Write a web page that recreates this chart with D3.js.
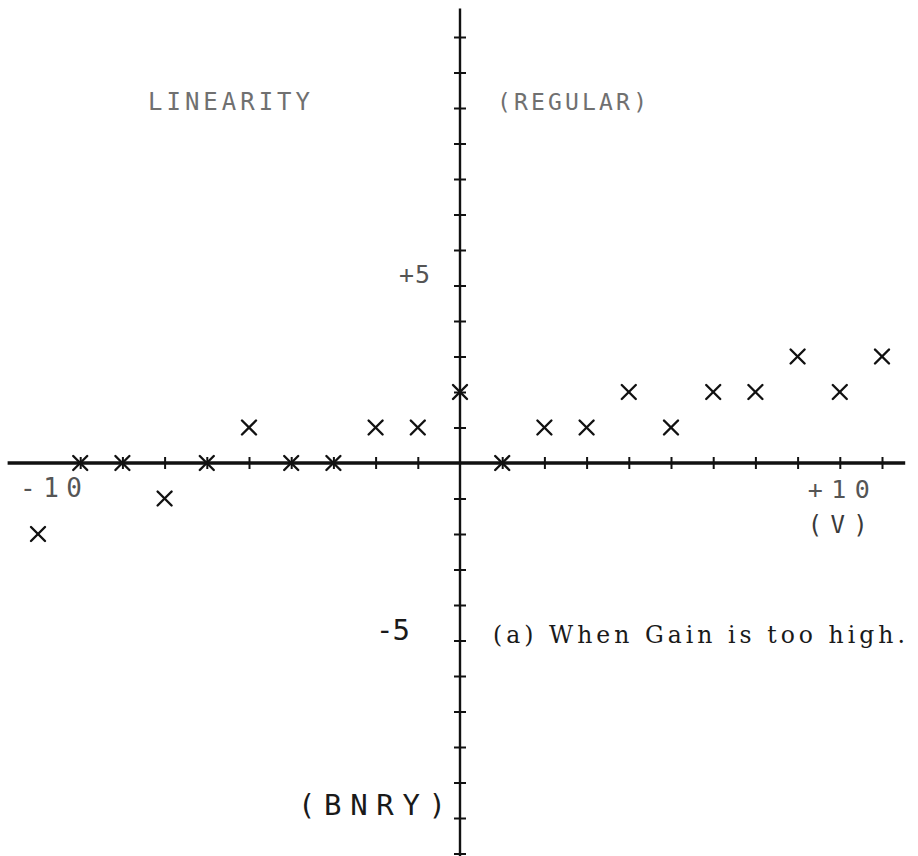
<!DOCTYPE html>
<html>
<head>
<meta charset="utf-8">
<script src="https://cdn.jsdelivr.net/npm/d3@7"></script>
<style>
  html, body { margin: 0; padding: 0; background: #fff; }
  svg { display: block; }
  .plot-font { font-family: "DejaVu Sans Mono", monospace; }
</style>
</head>
<body>
<svg id="chart" width="918" height="856"></svg>
<script>
// Input code steps along the horizontal axis
const codes = [-10, -9, -8, -7, -6, -5, -4, -3, -2, -1, 0, 1, 2, 3, 4, 5, 6, 7, 8, 9, 10];
// Measured output deviation for each code (LSB)
const outputs = [-2, 0, 0, -1, 0, 1, 0, 0, 1, 1, 2, 0, 1, 1, 2, 1, 2, 2, 3, 2, 3];

// Tick positions on each axis
const xTicks = [-9, -8, -7, -6, -5, -4, -3, -2, -1, 1, 2, 3, 4, 5, 6, 7, 8, 9, 10];
const yTicks = [-11, -10, -9, -8, -7, -6, -5, -4, -3, -2, -1, 1, 2, 3, 4, 5, 6, 7, 8, 9, 10, 11, 12];

const svg = d3.select("#chart");

const x = d3.scaleLinear().domain([-10, 10]).range([38, 882]);
const y = d3.scaleLinear().domain([-11, 12]).range([853.5, 37]);

const x0 = x(0), y0 = y(0);

// Axis lines
svg.append("line")
  .attr("x1", x(-10.72)).attr("x2", x(10.55))
  .attr("y1", y0).attr("y2", y0)
  .attr("stroke", "#111").attr("stroke-width", 3.4);
svg.append("line")
  .attr("x1", x0).attr("x2", x0)
  .attr("y1", y(12.8)).attr("y2", y(-11.1))
  .attr("stroke", "#111").attr("stroke-width", 2.4);

// Tick marks crossing the axes
const xAxis = d3.axisBottom(x).tickValues(xTicks).tickSize(12).tickFormat("");
svg.append("g")
  .attr("transform", `translate(0,${y0 - 6})`)
  .call(xAxis)
  .call(g => g.select(".domain").remove())
  .call(g => g.selectAll(".tick line").attr("stroke", "#111").attr("stroke-width", 2));

const yAxis = d3.axisLeft(y).tickValues(yTicks).tickSize(12).tickFormat("");
svg.append("g")
  .attr("transform", `translate(${x0 + 6},0)`)
  .call(yAxis)
  .call(g => g.select(".domain").remove())
  .call(g => g.selectAll(".tick line").attr("stroke", "#111").attr("stroke-width", 2));

// Data points drawn as crosses
const r = 7;
const pts = svg.append("g").selectAll("g")
  .data(codes.map((c, i) => ({ c, v: outputs[i] })))
  .join("g")
  .attr("transform", d => `translate(${x(d.c)},${y(d.v)})`);
pts.append("line").attr("x1", -r).attr("y1", -r).attr("x2", r).attr("y2", r);
pts.append("line").attr("x1", -r).attr("y1", r).attr("x2", r).attr("y2", -r);
pts.selectAll("line").attr("stroke", "#111").attr("stroke-width", 2.4).attr("stroke-linecap", "round");

// Plot title
svg.append("text").attr("class", "plot-font")
  .attr("x", 148).attr("y", 110)
  .attr("font-size", 24).attr("fill", "#707070")
  .attr("textLength", 162).attr("lengthAdjust", "spacing")
  .text("LINEARITY");
svg.append("text").attr("class", "plot-font")
  .attr("x", 497).attr("y", 110)
  .attr("font-size", 23).attr("fill", "#707070")
  .attr("textLength", 150).attr("lengthAdjust", "spacing")
  .text("(REGULAR)");

// Axis labels
const lab = (t, xp, yp, len, size, anchor, ink) => svg.append("text")
  .attr("class", "plot-font")
  .attr("x", xp).attr("y", yp)
  .attr("font-size", size).attr("fill", ink)
  .attr("text-anchor", anchor || "start")
  .attr("textLength", len).attr("lengthAdjust", "spacing")
  .text(t);

lab("+5", x0 - 30, y(5) - 3, 31, 25, "end", "#555");
lab("-5", x0 - 50, y(-5) - 1, 34, 29, "end", "#1a1a1a");
lab("(BNRY)", x0 - 14, y(-10) - 3, 148, 29, "end", "#1a1a1a");
lab("-10", x(-10) - 18, y0 + 34, 62, 26, "start", "#555");
lab("+10", x(9) - 32, y0 + 35, 62, 25, "start", "#555");
lab("(V)", x(9) - 32, y0 + 70, 60, 24, "start", "#3a3a3a");

// Caption
svg.append("text")
  .attr("x", 493).attr("y", 643)
  .attr("font-family", "'DejaVu Serif', serif")
  .attr("font-size", 23.5).attr("fill", "#1a1a1a")
  .attr("textLength", 412).attr("lengthAdjust", "spacing")
  .text("(a) When Gain is too high.");
</script>
</body>
</html>
